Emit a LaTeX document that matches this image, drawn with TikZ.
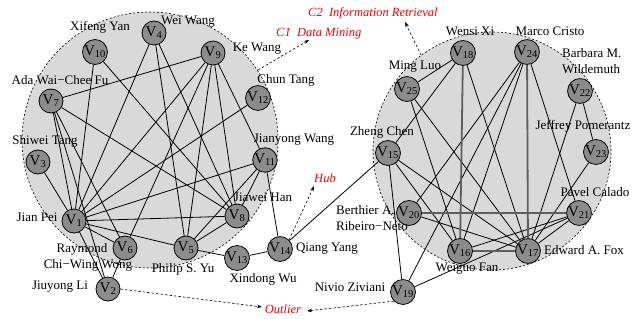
\documentclass[tikz,border=0pt]{standalone}
\usepackage{fontspec}
\setmainfont{Liberation Serif}
\usetikzlibrary{arrows.meta}
\pgfdeclarelayer{bg}
\pgfdeclarelayer{edges}
\pgfsetlayers{bg,edges,main}
\definecolor{vgray}{RGB}{140,140,140}
\definecolor{clgray}{RGB}{217,217,217}
\definecolor{edgegray}{RGB}{95,95,95}
\definecolor{annred}{RGB}{255,0,0}
\begin{document}
\begin{tikzpicture}[x=1pt,y=-1pt,
  vnode/.style={circle,draw=black,line width=0.8pt,fill=vgray,minimum size=24pt,inner sep=0pt,font=\fontsize{15}{15}\selectfont},
  lbl/.style={font=\fontsize{13}{15}\selectfont,inner sep=0pt},
  redlbl/.style={font=\fontsize{12.5}{14}\selectfont\itshape,text=annred,inner sep=0pt},
  edge/.style={line width=0.8pt,black},
  thickedge/.style={line width=1.8pt,edgegray},
  cluster/.style={fill=clgray,draw=black,dash pattern=on 2pt off 2pt,line width=0.6pt},
  darrow/.style={dash pattern=on 2.5pt off 2pt,line width=0.6pt,-{Stealth[length=5pt,width=3.5pt]}}]
\useasboundingbox (0,0) rectangle (644,318);
\begin{pgfonlayer}{bg}
  \fill[white] (0,0) rectangle (644,318);
  \path[cluster] (150,140) circle[radius=128pt];
  \path[cluster] (492,151) circle[radius=119pt];
\end{pgfonlayer}
% left cluster nodes
\node[vnode] (v1) at (74,221) {V\textsubscript{1}};
\node[vnode] (v2) at (108,289) {V\textsubscript{2}};
\node[vnode] (v3) at (38,162) {V\textsubscript{3}};
\node[vnode] (v4) at (154,33) {V\textsubscript{4}};
\node[vnode] (v5) at (186,248) {V\textsubscript{5}};
\node[vnode] (v6) at (125,248) {V\textsubscript{6}};
\node[vnode] (v7) at (51,101) {V\textsubscript{7}};
\node[vnode] (v8) at (237,216) {V\textsubscript{8}};
\node[vnode] (v9) at (213,53) {V\textsubscript{9}};
\node[vnode] (v10) at (95,52) {V\textsubscript{10}};
\node[vnode] (v11) at (265,160) {V\textsubscript{11}};
\node[vnode] (v12) at (258,98) {V\textsubscript{12}};
\node[vnode] (v13) at (237,258) {V\textsubscript{13}};
\node[vnode] (v14) at (280,249) {V\textsubscript{14}};
% right cluster nodes
\node[vnode] (v15) at (388,153) {V\textsubscript{15}};
\node[vnode] (v16) at (460,251) {V\textsubscript{16}};
\node[vnode] (v17) at (528,251) {V\textsubscript{17}};
\node[vnode] (v18) at (463,53) {V\textsubscript{18}};
\node[vnode] (v19) at (403,292) {V\textsubscript{19}};
\node[vnode] (v20) at (409,213) {V\textsubscript{20}};
\node[vnode] (v21) at (579,213) {V\textsubscript{21}};
\node[vnode] (v22) at (580,91) {V\textsubscript{22}};
\node[vnode] (v23) at (596,152) {V\textsubscript{23}};
\node[vnode] (v24) at (527,52) {V\textsubscript{24}};
\node[vnode] (v25) at (407,89) {V\textsubscript{25}};
% edges
\begin{pgfonlayer}{edges}
  \foreach \a/\b in {v7/v9,v7/v8,v7/v1,v7/v6,v7/v2,v3/v1,v10/v1,v10/v8,
      v4/v1,v4/v5,v4/v8,v9/v1,v9/v6,v9/v5,v9/v8,v9/v11,v12/v1,v11/v1,
      v11/v8,v11/v5,v11/v14,v8/v1,v8/v5,v1/v5,v1/v6,v1/v2,v2/v6,v5/v13,
      v13/v14,v14/v15,
      v18/v25,v18/v15,v18/v17,v24/v20,v24/v19,v24/v16,v24/v21,
      v25/v16,v25/v17,v22/v23,v22/v17,v23/v17,v15/v19,v15/v16,v15/v17,
      v20/v17,v21/v16,v21/v17,v19/v21}
    {\draw[edge] (\a) -- (\b);}
  \foreach \a/\b in {v20/v21,v16/v17,v18/v16,v24/v17}
    {\draw[thickedge] (\a) -- (\b);}
\end{pgfonlayer}
% labels
\node[lbl] (l10) at (100,27) {Xifeng Yan};
\node[lbl] (l4) at (188,22) {Wei Wang};
\node[lbl] (l9) at (257,49) {Ke Wang};
\node[lbl] (l7) at (60,80) {Ada Wai−Chee Fu};
\node[lbl] (l12) at (286,80) {Chun Tang};
\node[lbl] (l3) at (45,141) {Shiwei Tang};
\node[lbl] (l11) at (294,140) {Jianyong Wang};
\node[lbl] (l8) at (263,197) {Jiawei Han};
\node[lbl] (l1) at (37,217) {Jian Pei};
\node[lbl] (l6a) at (82,249) {Raymond};
\node[lbl] (l6b) at (88,265) {Chi−Wing Wong};
\node[lbl] (l5) at (183,269) {Philip S. Yu};
\node[lbl] (l13) at (263,279) {Xindong Wu};
\node[lbl] (l2) at (60,287) {Jiuyong Li};
\node[lbl] (l14) at (327,249) {Qiang Yang};
\node[lbl] (l19) at (350,287) {Nivio Ziviani};
\node[lbl] (l18) at (470,31) {Wensi Xi};
\node[lbl] (l24) at (550,31) {Marco Cristo};
\node[lbl,anchor=west] (l22a) at (562,53) {Barbara M.};
\node[lbl,anchor=west] (l22b) at (562,69) {Wildemuth};
\node[lbl] (l25) at (415,67) {Ming Luo};
\node[lbl] (l23) at (583,126) {Jeffrey Pomerantz};
\node[lbl] (l15) at (382,132) {Zheng Chen};
\node[lbl] (l21) at (595,192) {Pavel Calado};
\node[lbl,anchor=west] (l20a) at (336,210) {Berthier A.};
\node[lbl,anchor=west] (l20b) at (336,226) {Ribeiro−Neto};
\node[lbl] (l17) at (584,250) {Edward A. Fox};
\node[lbl] (l16) at (467,269) {Weiguo Fan};
% annotations
\node[redlbl,anchor=west] (c2) at (308,13) {C2\ \ Information Retrieval};
\node[redlbl,anchor=west] (c1) at (276,34) {C1\ \ Data Mining};
\node[redlbl] (hub) at (325,178) {Hub};
\node[redlbl] (out) at (283,309) {Outlier};
\coordinate (c1s) at (258,70);
\coordinate (c1e) at (309,40);
\coordinate (c2s) at (421,55);
\coordinate (c2e) at (405,22);
\coordinate (hube) at (314,186);
\coordinate (oute1) at (262,307);
\coordinate (oute2) at (307,311);
\draw[darrow] (c1s) -- (c1e);
\draw[darrow] (c2s) -- (c2e);
\draw[darrow] (v14.north east) -- (hube);
\draw[darrow] (v2.east) -- (oute1);
\draw[darrow] (v19.south west) -- (oute2);
\end{tikzpicture}
\end{document}
